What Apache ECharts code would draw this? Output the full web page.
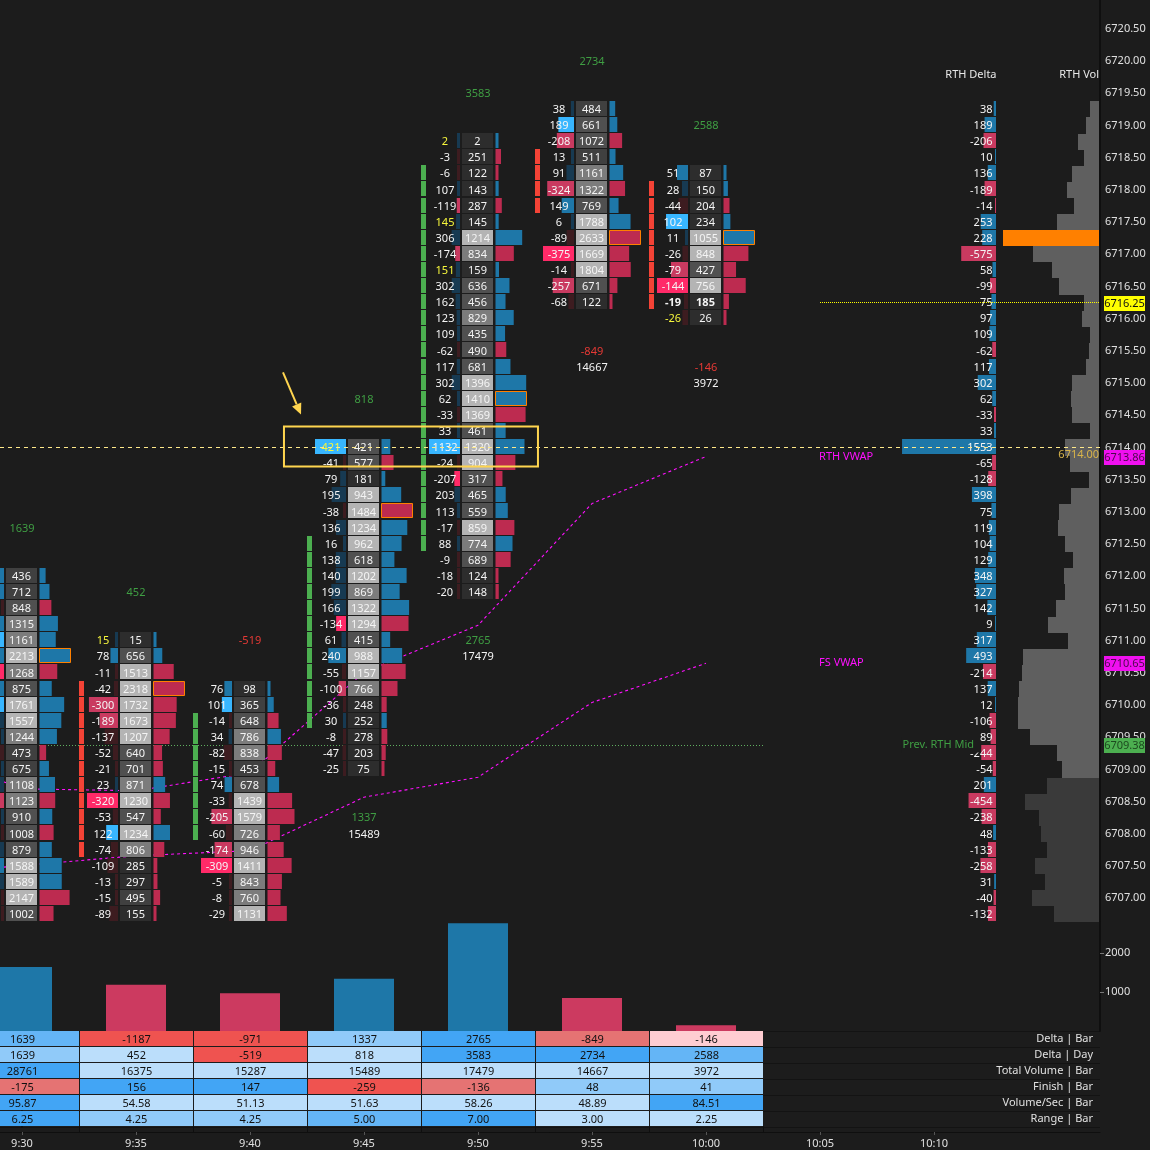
<!DOCTYPE html>
<html><head><meta charset="utf-8">
<style>html,body{margin:0;padding:0;background:#1c1c1c}#c{width:1150px;height:1150px}</style>
<script src="https://cdn.jsdelivr.net/npm/echarts@6/dist/echarts.min.js"></script>
</head><body><div id="c"></div>
<script>
const barMinutes = [0, 5, 10, 15, 20, 25, 30];
const timeLabels = ['9:30','9:35','9:40','9:45','9:50','9:55','10:00','10:05','10:10'];
const priceTicks = [6721,6720.5,6720,6719.5,6719,6718.5,6718,6717.5,6717,6716.5,6716,6715.5,6715,6714.5,6714,6713.5,6713,6712.5,6712,6711.5,6711,6710.5,6710,6709.5,6709,6708.5,6708,6707.5,6707];
const lowerTicks = [1000, 2000];

const barHighs = [6712, 6711, 6710.25, 6714, 6718.75, 6719.25, 6718.25];
const delta930 = [226,148,-24,143,241,175,-148,203,247,67,22,-63,7,104,-101,20,-14,115,160,49,-17,-14];
const vol930 = [436,712,848,1315,1161,2213,1268,875,1761,1557,1244,473,675,1108,1123,910,1008,879,1588,1589,2147,1002];
const delta935 = [15,78,-11,-42,-300,-189,-137,-52,-21,23,-320,-53,122,-74,-109,-13,-15,-89];
const vol935 = [15,656,1513,2318,1732,1673,1207,640,701,871,1230,547,1234,806,285,297,495,155];
const delta940 = [76,101,-14,34,-82,-15,74,-33,-205,-60,-174,-309,-5,-8,-29];
const vol940 = [98,365,648,786,838,453,678,1439,1579,726,946,1411,843,760,1131];
const delta945 = [421,-41,79,195,-38,136,16,138,140,199,166,-134,61,240,-55,-100,-36,30,-8,-47,-25];
const vol945 = [421,577,181,943,1484,1234,962,618,1202,869,1322,1294,415,988,1157,766,248,252,278,203,75];
const delta950 = [2,-3,-6,107,-119,145,306,-174,151,302,162,123,109,-62,117,302,62,-33,33,1132,-24,-207,203,113,-17,88,-9,-18,-20];
const vol950 = [2,251,122,143,287,145,1214,834,159,636,456,829,435,490,681,1396,1410,1369,461,1320,904,317,465,559,859,774,689,124,148];
const delta955 = [38,189,-208,13,91,-324,149,6,-89,-375,-14,-257,-68];
const vol955 = [484,661,1072,511,1161,1322,769,1788,2633,1669,1804,671,122];
const delta1000 = [51,28,-44,102,11,-26,-79,-144,-19,-26];
const vol1000 = [87,150,204,234,1055,848,427,756,185,26];
const barDeltas = [delta930,delta935,delta940,delta945,delta950,delta955,delta1000];
const barVols = [vol930,vol935,vol940,vol945,vol950,vol955,vol1000];
// largest row of each bar; the 9:40 bar's largest row lies below the visible panel
const barVolMax = [2213,2318,1813,1484,1410,2633,1055];
const rangeMarks = [null,[6710.25,6707.75],[6709.75,6708],[6712.5,6709.75],[6718.25,6712.5],[6718.5,6717.75],[6718,6716.25]];
const rangeUp = [true,false,true,true,true,false,false];
const shadeCuts = [[300,800,1100,1500],[300,500,800,1000],[300,500,700,1000],[300,300,750,900],[300,300,700,850],[300,600,1150,1500],[300,300,750,750]];

const deltaBarRow = [1639,-1187,-971,1337,2765,-849,-146];
const deltaDayRow = [1639,452,-519,818,3583,2734,2588];
const totalVolRow = [28761,16375,15287,15489,17479,14667,3972];
const finishRow = [-175,156,147,-259,-136,48,41];
const volSecRow = ['95.87','54.58','51.13','51.63','58.26','48.89','84.51'];
const rangeRow = ['6.25','4.25','4.25','5.00','7.00','3.00','2.25'];
const tableNames = ['Delta | Bar','Delta | Day','Total Volume | Bar','Finish | Bar','Volume/Sec | Bar','Range | Bar'];
const tableShades = [[2,-3,-3,1,3,-2,-1],[1,0,-3,0,3,3,2],[3,0,0,0,0,0,0],[-2,3,3,-3,-2,1,1],[3,0,0,0,0,0,3],[3,1,1,2,3,0,0]];
const shadeColors = {'0':'#bbdefb','1':'#90caf9','2':'#64b5f6','3':'#42a5f5','-1':'#ffcdd2','-2':'#e57373','-3':'#ef5350'};

const profilePrices = [];
for (let p = 6719.25; p >= 6706.75; p -= 0.25) profilePrices.push(p);
const rthDelta = [38,189,-206,10,136,-189,-14,253,228,-575,58,-99,75,97,109,-62,117,302,62,-33,33,1553,-65,-128,398,75,119,104,129,348,327,142,9,317,493,-214,137,12,-106,-89,-244,-54,201,-454,-238,48,-133,-258,31,-40,-132];
const rthVol = [484,661,1074,762,1370,1615,1260,2167,4902,3351,2390,2063,763,855,435,490,681,1396,1410,1369,461,1741,1481,498,1408,2043,2093,1736,1307,1762,1729,2170,2609,1591,3857,3938,4057,4106,4130,3515,2154,1904,2657,3792,3036,2968,2631,3284,2729,3402,2288];

const vwapMinutes = [-5,0,5,10,15,20,25,30];
const rthVwap = [6709.37,6708.70,6708.67,6708.95,6710.51,6711.24,6713.13,6713.86];
const fsVwap = [6707.35,6707.51,6707.66,6707.74,6708.57,6708.88,6710.04,6710.65];
const prevMid = 6709.38, lastPrice = 6714, currentPrice = 6716.25;

const BLUE='#1e77a8', RED='#bd2b50', RED2='#c93a60', FONT='11px "Noto Sans"', TXT='#f4f4f4';
const xMin=-22/22.8, xMax=1078/22.8;
const pTop=6714+457.5/64.4, pBot=6714-474.5/64.4;

function txt(text,x,y,fill,align,font,extra){return {type:'text',style:Object.assign({text:String(text),x:x,y:y,fill:fill,font:font||FONT,align:align||'center',verticalAlign:'middle',textAlign:align||'center',textVerticalAlign:'middle'},extra||{}),silent:true};}
function rect(x,y,w,h,fill,stroke,lw){return {type:'rect',shape:{x:x,y:y,width:w,height:h},style:{fill:fill,stroke:stroke||null,lineWidth:lw||0},silent:true};}

const stats = barDeltas.map((d,i)=>({maxPos:Math.max(0,...d),maxNeg:Math.max(0,...d.map(v=>-v)),maxAbs:Math.max(...d.map(Math.abs)),maxVol:barVolMax[i]}));
const cells=[];
barDeltas.forEach((d,b)=>d.forEach((v,r)=>cells.push([barMinutes[b],barHighs[b]-r*0.25,v,barVols[b][r],b])));

function deltaColor(d,s){
  if(d>=0){const q=d/s.maxPos; return q>=0.97?'#38b6ff':q>=0.5?BLUE:'#173a52';}
  const q=-d/s.maxNeg; return q>=0.97?'#ff2a68':q>=0.5?RED2:'#3d1c20';
}
function volShade(v,c){return v<c[0]?'#2d2d2d':v<c[1]?'#404040':v<c[2]?'#505050':v<c[3]?'#7c7c7c':'#b4b4b4';}

function renderCell(params,api){
  const m=api.value(0),p=api.value(1),d=api.value(2),v=api.value(3),b=api.value(4);
  const s=stats[b],c=api.coord([m,p]),cx=Math.round(c[0]),cy=c[1],top=Math.floor(cy-8);
  const kids=[];
  const rm=rangeMarks[b];
  if(rm&&p<=rm[0]&&p>=rm[1]) kids.push(rect(cx-57,top,5,15,rangeUp[b]?'#4caf50':'#f44336'));
  const dw=Math.max(3,31*Math.abs(d)/s.maxAbs);
  kids.push(rect(cx-18-dw,top,dw,15,deltaColor(d,s)));
  kids.push(rect(cx-16,top,31,15,volShade(v,shadeCuts[b])));
  const w=Math.max(3,31*v/s.maxVol),poc=v===s.maxVol;
  kids.push(rect(cx+17.5,poc?top+.5:top,poc?31:w,poc?14:15,d>=0?BLUE:RED,poc?'#ff8000':null,poc?1:0));
  const bold=(m===30&&p===currentPrice);
  const f=bold?'bold 11px "Noto Sans"':FONT;
  kids.push(txt(d,cx-33,cy+.5,Math.abs(d)/v>=0.9?'#f6f63c':TXT,'center',f));
  kids.push(txt(v,cx-0.5,cy+.5,TXT,'center',f));
  return {type:'group',children:kids};
}

const summary=[];
barMinutes.forEach((m,i)=>{
  const low=barHighs[i]-(barDeltas[i].length-1)*0.25;
  summary.push([m,barHighs[i]+0.75,deltaDayRow[i],deltaDayRow[i]>=0?'#3f9e43':'#e53935']);
  summary.push([m,low-0.75,deltaBarRow[i],deltaBarRow[i]>=0?'#3f9e43':'#e53935']);
  summary.push([m,low-1.0,totalVolRow[i],TXT]);
});
const tableRows=[deltaBarRow,deltaDayRow,totalVolRow,finishRow,volSecRow,rangeRow];
const tableCells=[];
tableRows.forEach((row,r)=>row.forEach((v,b)=>tableCells.push([barMinutes[b],tableNames[r],v,tableShades[r][b],r])));

const notes=[
 [41.62,6719.79,'RTH Delta','#e8e8e8','center'],
 [47.24,6719.79,'RTH Vol','#e8e8e8','right'],
 [34.96,6713.86,'RTH VWAP','#ff10ff','left'],
 [34.96,6710.65,'FS VWAP','#ff10ff','left'],
 [42.02,6709.38,'Prev. RTH Mid','#3f9e43','right',{backgroundColor:'#1c1c1c',padding:[4,6,0,1]}],
 [47.24,6713.88,'6714.00','#d9b44a','right']
];
const priceTags=[[currentPrice,'#ffff00'],[6713.86,'#f010f0'],[6710.65,'#f010f0'],[prevMid,'#4caf50']];
const levelLines=[[xMin,prevMid,32.5,'#5fae5f',[1,2],1],[xMin,lastPrice,xMax,'#ffe98a',[4,4],6],[35,currentPrice,xMax,'#ffff00',[1,1],6]];

function levelItem(p,api){
  const l=levelLines[p.dataIndex],a=api.coord([l[0],l[1]]),b=api.coord([l[2],l[1]]),y=Math.round(a[1]-.5)+.5;
  return {type:'line',shape:{x1:a[0],y1:y,x2:b[0],y2:y},style:{stroke:l[3],lineWidth:1,lineDash:l[4]},silent:true};
}
const option={
 backgroundColor:'#1c1c1c',animation:false,
 grid:[{left:0,right:50,top:-10,height:932,outerBoundsMode:'none'},{left:0,right:50,top:922,height:109,outerBoundsMode:'none'},{left:0,right:50,top:1031,height:96,outerBoundsMode:'none'}],
 xAxis:[
  {type:'value',gridIndex:0,min:xMin,max:xMax,show:false},
  {type:'value',gridIndex:0,min:-996/0.0605,max:104/0.0605,show:false},
  {type:'value',gridIndex:0,min:-51,max:1099*51,inverse:true,show:false},
  {type:'value',gridIndex:1,min:xMin,max:xMax,show:false},
  {type:'value',gridIndex:2,min:xMin,max:xMax,position:'bottom',offset:5,splitLine:{show:false},
   axisLine:{show:true,onZero:false,lineStyle:{color:'#0f0f0f'}},
   axisTick:{show:true,length:3,lineStyle:{color:'#555'},customValues:[0,5,10,15,20,25,30,35,40]},
   axisLabel:{color:'#e0e0e0',fontFamily:'Noto Sans',fontSize:11,margin:6,customValues:[0,5,10,15,20,25,30,35,40],formatter:v=>timeLabels[v/5]}}
 ],
 yAxis:[
  {type:'value',gridIndex:0,min:pBot,max:pTop,position:'right',splitLine:{show:false},
   axisLine:{show:true,onZero:false,lineStyle:{color:'#0f0f0f',width:2}},axisTick:{show:false},
   axisLabel:{color:'#e0e0e0',fontFamily:'Noto Sans',fontSize:11,margin:5,padding:[4,0,0,0],customValues:priceTicks,formatter:v=>v.toFixed(2)}},
  {type:'value',gridIndex:1,min:0,max:109/0.039,position:'right',splitLine:{show:false},
   axisLine:{show:true,onZero:false,lineStyle:{color:'#0f0f0f',width:2}},
   axisTick:{show:true,length:4,lineStyle:{color:'#777'},customValues:lowerTicks},
   axisLabel:{color:'#e0e0e0',fontFamily:'Noto Sans',fontSize:11,margin:5,customValues:lowerTicks,formatter:v=>String(v)}},
  {type:'category',gridIndex:2,data:tableNames,inverse:true,position:'right',
   axisLine:{show:true,lineStyle:{color:'#0f0f0f',width:2}},axisTick:{show:false},
   splitLine:{show:true,interval:0,lineStyle:{color:'#131313'}},
   axisLabel:{inside:true,interval:0,color:'#e0e0e0',fontFamily:'Noto Sans',fontSize:11,margin:7,padding:[2,0,0,0]}}
 ],
 series:[
  {type:'line',name:'RTH VWAP',xAxisIndex:0,yAxisIndex:0,z:1,showSymbol:false,silent:true,data:vwapMinutes.map((m,i)=>[m,rthVwap[i]]),lineStyle:{color:'#ff10ff',width:1.1,type:[3,3]}},
  {type:'line',name:'FS VWAP',xAxisIndex:0,yAxisIndex:0,z:1,showSymbol:false,silent:true,data:vwapMinutes.map((m,i)=>[m,fsVwap[i]]),lineStyle:{color:'#ff10ff',width:1.1,type:[3,3]}},
  {type:'custom',name:'Prev RTH Mid',xAxisIndex:0,yAxisIndex:0,z:1,silent:true,clip:true,data:[levelLines[0].slice(0,2)],encode:{x:0,y:1},renderItem:(p,api)=>levelItem({dataIndex:0},api)},
  {type:'custom',name:'Footprint',xAxisIndex:0,yAxisIndex:0,z:3,silent:true,clip:true,data:cells,encode:{x:0,y:1},renderItem:renderCell},
  {type:'custom',name:'Bar totals',xAxisIndex:0,yAxisIndex:0,z:4,silent:true,clip:true,data:summary,encode:{x:0,y:1},
   renderItem:(p,api)=>{const c=api.coord([api.value(0),api.value(1)]);return txt(summary[p.dataIndex][2],c[0],c[1]+.5,summary[p.dataIndex][3]);}},
  {type:'custom',name:'RTH Vol',xAxisIndex:2,yAxisIndex:0,z:3,silent:true,clip:true,data:profilePrices.map((p,i)=>[rthVol[i],p]),encode:{x:0,y:1},
   renderItem:(p,api)=>{const v=api.value(0),pr=api.value(1),a=api.coord([0,pr+0.125]),z=api.coord([0,pr-0.125]),b=api.coord([v,pr]);
     const col=v===Math.max(...rthVol)?'#ff8000':pr>=6709?'#5f5f5f':'#3a3a3a',t=Math.round(a[1]);
     return rect(Math.round(b[0]),t,a[0]-Math.round(b[0]),Math.round(z[1])-t,col);}},
  {type:'custom',name:'RTH Delta',xAxisIndex:1,yAxisIndex:0,z:3,silent:true,clip:true,data:profilePrices.map((p,i)=>[rthDelta[i],p]),encode:{x:0,y:1},
   renderItem:(p,api)=>{const v=api.value(0),pr=api.value(1),a=api.coord([0,pr]),b=api.coord([Math.abs(v),pr]);
     const w=Math.max(1,b[0]-a[0]);
     return {type:'group',children:[rect(a[0]-w,Math.floor(a[1]-8),w,15,v>=0?BLUE:RED2),txt(v,a[0]-3.5,a[1]+.5,TXT,'right')]};}},
  {type:'custom',name:'Notes',xAxisIndex:0,yAxisIndex:0,z:5,silent:true,clip:true,data:notes.map(n=>[n[0],n[1]]),encode:{x:0,y:1},
   renderItem:(p,api)=>{const n=notes[p.dataIndex],c=api.coord([n[0],n[1]]);return txt(n[2],c[0],c[1],n[3],n[4],null,n[5]);}},
  {type:'custom',name:'Levels',xAxisIndex:0,yAxisIndex:0,z:6,silent:true,clip:true,data:levelLines.slice(1).map(l=>l.slice(0,2)),encode:{x:0,y:1},renderItem:(p,api)=>levelItem({dataIndex:p.dataIndex+1},api)},
  {type:'custom',name:'Box',xAxisIndex:0,yAxisIndex:0,z:7,silent:true,clip:true,data:[[11.49,6714.326,22.63,6713.705]],encode:{x:[0,2],y:[1,3]},
   renderItem:(p,api)=>{const a=api.coord([api.value(0),api.value(1)]),b=api.coord([api.value(2),api.value(3)]);
     return {type:'rect',shape:{x:a[0],y:a[1],width:b[0]-a[0],height:b[1]-a[1]},style:{fill:'none',stroke:'#ffd54f',lineWidth:2}};}},
  {type:'custom',name:'Arrow',xAxisIndex:0,yAxisIndex:0,z:7,silent:true,clip:true,data:[[11.447,6715.165,12.237,6714.512]],encode:{x:[0,2],y:[1,3]},
   renderItem:(p,api)=>{const a=api.coord([api.value(0),api.value(1)]),b=api.coord([api.value(2),api.value(3)]);
     const dx=b[0]-a[0],dy=b[1]-a[1],L=Math.hypot(dx,dy),ux=dx/L,uy=dy/L,h=11,w=5;
     const bx=b[0]-ux*h,by=b[1]-uy*h;
     return {type:'group',children:[
       {type:'line',shape:{x1:a[0],y1:a[1],x2:bx,y2:by},style:{stroke:'#ffd54f',lineWidth:2}},
       {type:'polygon',shape:{points:[[b[0],b[1]],[bx-uy*w,by+ux*w],[bx+uy*w,by-ux*w]]},style:{fill:'#ffd54f'}}]};}},
  {type:'custom',name:'Price tags',xAxisIndex:0,yAxisIndex:0,z:8,silent:true,clip:false,data:priceTags.map(t=>[xMax,t[0]]),encode:{x:0,y:1},
   renderItem:(p,api)=>{const t=priceTags[p.dataIndex],c=api.coord([xMax,t[0]]),y=Math.round(c[1]);
     return {type:'group',children:[rect(c[0]+4,y-7,41,15,t[1]),txt(t[0].toFixed(2),c[0]+24.5,y+.5,t[1]==='#4caf50'?'#1d4a1f':t[1]==='#ffff00'?'#111':'#4a0a4a')]};}},
  {type:'bar',name:'Delta bars',xAxisIndex:3,yAxisIndex:1,z:2,silent:true,barWidth:60,data:barMinutes.map((m,i)=>({value:[m,Math.abs(deltaBarRow[i])],itemStyle:{color:deltaBarRow[i]>=0?BLUE:'#cc3a60'}}))},
  {type:'custom',name:'Table',xAxisIndex:4,yAxisIndex:2,z:3,silent:true,clip:false,data:tableCells.map(c=>[c[0],c[1]]),encode:{x:0,y:1},
   renderItem:(p,api)=>{const c=tableCells[p.dataIndex],pos=api.coord([c[0],c[1]]),h=api.size([0,1])[1],cx=Math.round(pos[0]),t=pos[1]-h/2;
     const kids=[rect(cx-56,t,113,h-1,shadeColors[c[3]]),txt(c[2],cx+.5,t+8.5,'#111')];
     if(c[4]===5){kids.push(rect(cx-57,t+h-1,1,6,'#0f0f0f'));kids.push(rect(cx+57,t+h-1,1,6,'#0f0f0f'));}
     return {type:'group',children:kids};}}
 ]
};
const chart=echarts.init(document.getElementById('c'),null,{width:1150,height:1150});
chart.setOption(option);
</script></body></html>
